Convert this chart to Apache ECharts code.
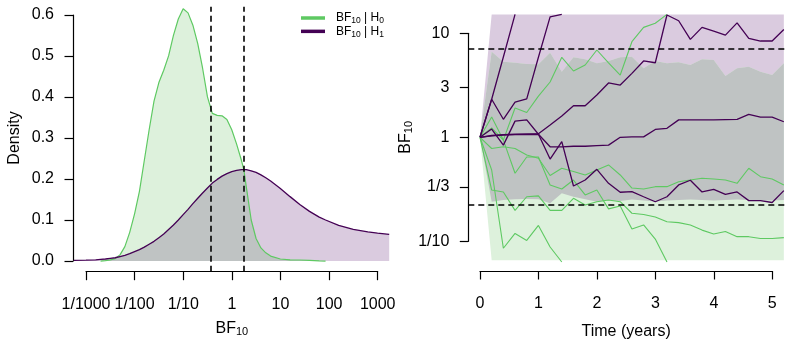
<!DOCTYPE html>
<html>
<head>
<meta charset="utf-8">
<script src="https://cdn.jsdelivr.net/npm/echarts@6/dist/echarts.min.js"></script>
<style>
  html, body { margin: 0; padding: 0; background: #fff; }
  #main { width: 789px; height: 345px; }
</style>
</head>
<body>
<div id="main"></div>
<script>
// ---- left panel: density of BF10 (x in log10 units) ----
const logBF = [-3.25, -3.0, -2.8, -2.7, -2.6, -2.5, -2.4, -2.3, -2.2, -2.1, -2.0, -1.9, -1.8, -1.7, -1.6, -1.5,
  -1.4, -1.3, -1.2, -1.1, -1.0, -0.9, -0.8, -0.7, -0.6, -0.5, -0.4, -0.3, -0.2, -0.1, 0.0, 0.1, 0.2, 0.25,
  0.3, 0.4, 0.5, 0.6, 0.7, 0.8, 1.0, 1.2, 1.4, 1.6, 1.8, 1.93, 2.2, 2.5, 2.8, 3.0, 3.24];
const densH0 = [null, null, null, 0, 0.001, 0.003, 0.006, 0.015, 0.035, 0.07, 0.115, 0.17, 0.245, 0.32, 0.39, 0.435,
  0.465, 0.50, 0.55, 0.59, 0.615, 0.605, 0.575, 0.53, 0.47, 0.40, 0.36, 0.355, 0.354, 0.345, 0.32, 0.285, 0.245, 0.222,
  0.18, 0.10, 0.055, 0.032, 0.02, 0.012, 0.005, 0.003, 0.0025, 0.0015, 0.0005, 0, null, null, null, null, null];
const densH1 = [0.0015, 0.002, 0.003, 0.004, 0.005, 0.0065, 0.008, 0.011, 0.014, 0.018, 0.023, 0.028, 0.034, 0.041, 0.048, 0.057,
  0.066, 0.077, 0.088, 0.100, 0.113, 0.126, 0.14, 0.153, 0.166, 0.178, 0.19, 0.199, 0.207, 0.213, 0.218, 0.221, 0.223, 0.223,
  0.223, 0.22, 0.216, 0.21, 0.203, 0.195, 0.177, 0.157, 0.138, 0.121, 0.107, 0.100, 0.087, 0.077, 0.071, 0.068, 0.065];
const cutsLeft = [0.37, 1.79];
const xTickLabelsLeft = ['1/1000', '1/100', '1/10', '1', '10', '100', '1000'];

// ---- right panel: BF10 over time ----
const years = [0, 0.2, 0.4, 0.6, 0.8, 1, 1.2, 1.4, 1.6, 1.8, 2, 2.2, 2.4, 2.6, 2.8, 3, 3.2, 3.4, 3.6, 3.8, 4, 4.2, 4.4, 4.6, 4.8, 5, 5.2];
const bandH1Low = [1, 0.240, 0.249, 0.253, 0.255, 0.253, 0.232, 0.290, 0.268, 0.253, 0.240, 0.247, 0.244, 0.252, 0.247, 0.241,
  0.247, 0.249, 0.252, 0.249, 0.247, 0.249, 0.252, 0.249, 0.247, 0.247, 0.249];
const bandH1High = [1, 15.2, 15.2, 15.2, 15.2, 15.2, 15.2, 15.2, 15.2, 15.2, 15.2, 15.2, 15.2, 15.2, 15.2, 15.2,
  15.2, 15.2, 15.2, 15.2, 15.2, 15.2, 15.2, 15.2, 15.2, 15.2, 15.2];
const bandH0Low = [1, 0.0658, 0.0658, 0.0658, 0.0658, 0.0658, 0.0658, 0.0658, 0.0658, 0.0658, 0.0658, 0.0658, 0.0658, 0.0658,
  0.0658, 0.0658, 0.0658, 0.0658, 0.0658, 0.0658, 0.0658, 0.0658, 0.0658, 0.0658, 0.0658, 0.0658, 0.0658];
const bandH0High = [1, 6.65, 5.33, 5.21, 5.07, 5.03, 6.51, 4.27, 5.88, 5.62, 5.15, 5.42, 5.88, 5.96, 4.61, 5.42,
  5.15, 5.26, 4.96, 5.62, 5.54, 3.88, 4.61, 4.77, 4.27, 3.97, 5.15];

const h1PathA = [1, 2.32, 1.49, 2.18, 2.34, 5.88, 14.4, 15.2];
const h1PathB = [1, 2.32, 5.92, 15.2];
const h1PathC = [1, 1.2, 0.84, 1.43, 1.47, 1.07, 0.618, 0.91, 0.340, 0.388, 0.492, 0.361, 0.296, 0.300, 0.268, 0.240,
  0.268, 0.348, 0.386, 0.298, 0.316, 0.283, 0.298, 0.246, 0.246, 0.236, 0.307];
const h1PathD = [1, 1.04, 1.06, 1.07, 1.08, 1.08, 1.31, 1.60, 2.01, 2.01, 2.55, 3.33, 3.18, 4.12, 5.42, 5.21,
  15.0, 13.2, 8.75, 11.4, 10.5, 9.6, 12.6, 8.95, 8.43, 8.43, 10.9];
const h1PathE = [1, 1.03, 1.05, 1.06, 1.06, 1.07, 0.81, 0.81, 0.82, 0.82, 0.83, 0.84, 1.0, 1.01, 1.01, 1.19,
  1.22, 1.47, 1.47, 1.47, 1.47, 1.48, 1.49, 1.66, 1.56, 1.56, 1.41];

const h0PathA = [1, 1.57, 0.94, 1.91, 1.73, 2.49, 3.40, 5.88, 4.34, 4.96, 6.91, 5.2, 3.97, 8.30, 11.4, 12.5, 15.2];
const h0PathB = [1, 0.78, 0.81, 0.78, 0.676, 0.628, 0.429, 0.504, 0.469, 0.434, 0.485, 0.542, 0.434, 0.325, 0.318, 0.335,
  0.335, 0.374, 0.388, 0.404, 0.397, 0.388, 0.361, 0.504, 0.418, 0.397, 0.348];
const h0PathC = [1, 1.23, 0.94, 0.451, 0.647, 0.647, 0.348, 0.318, 0.388, 0.279, 0.311, 0.205, 0.218, 0.131, 0.1435, 0.105, 0.0632];
const h0PathD = [1, 0.311, 0.298, 0.198, 0.268, 0.273, 0.198, 0.198, 0.259, 0.223, 0.240, 0.249, 0.240, 0.186, 0.181, 0.171,
  0.154, 0.151, 0.1435, 0.128, 0.1175, 0.124, 0.1107, 0.1107, 0.1064, 0.1064, 0.1083];
const h0PathE = [1, 0.485, 0.0857, 0.119, 0.1018, 0.142, 0.0881, 0.0632];

const cutsRight = [0.225, 7];
const yTicksRight = [1 / 10, 1 / 3, 1, 3, 10];
const yTickLabelsRight = ['1/10', '1/3', '1', '3', '10'];

// ---- styling ----
const FONT = "'Liberation Sans', Arial, sans-serif";
const GREEN = '#5ec962';
const PURPLE = '#440154';
const GREEN_FILL = '#ddf1dc';
const PURPLE_FILL = '#dacbdf';
const GRAY_FILL = '#bfc3c3';

const lg = (v) => Math.log10(v);
const labelStyle = { color: '#000', fontSize: 16, fontFamily: FONT };
const axisLine = { show: true, lineStyle: { color: '#000', width: 1.2 } };
const axisTick = { show: true, length: 8.5, lineStyle: { color: '#000', width: 1.2 } };
const subRich = {
  b: { fontSize: 16, fontFamily: FONT, color: '#000', lineHeight: 18 },
  s: { fontSize: 11, fontFamily: FONT, color: '#000', lineHeight: 10, verticalAlign: 'bottom' }
};
const hidden = (gridIndex, min, max) => ({ gridIndex, type: 'value', min, max, show: false, splitLine: { show: false } });

// left panel points
const h0Pts = logBF.map((x, i) => [x, densH0[i]]).filter((p) => p[1] !== null);
const h1Pts = logBF.map((x, i) => [x, densH1[i]]);
const overlapPts = logBF.map((x, i) => (densH0[i] === null ? null : [x, Math.min(densH0[i], densH1[i])])).filter(Boolean);

// right panel: a band is one polygon, upper edge then lower edge, mapped through the axes
const traj = (vals) => vals.map((v, i) => [years[i], lg(v)]);
function band(name, lo, hi, color, extra) {
  return Object.assign({
    name, type: 'custom', coordinateSystem: 'cartesian2d', xAxisIndex: 3, yAxisIndex: 3, silent: true,
    data: years.map((t, i) => [t, lg(lo[i]), lg(hi[i])]),
    encode: { x: 0, y: [1, 2] },
    renderItem: (params, api) => {
      if (params.dataIndex !== 0) return null;
      const upper = years.map((t, i) => api.coord([t, lg(hi[i])]));
      const lower = years.map((t, i) => api.coord([t, lg(lo[i])])).reverse();
      return { type: 'polygon', shape: { points: upper.concat(lower) }, style: { fill: color } };
    }
  }, extra || {});
}
function path(vals, color, width) {
  return {
    type: 'line', xAxisIndex: 3, yAxisIndex: 3, data: traj(vals), showSymbol: false, silent: true,
    lineStyle: { color, width }, itemStyle: { color }, z: 3
  };
}

const chart = echarts.init(document.getElementById('main'));
chart.setOption({
  animation: false,
  backgroundColor: '#fff',
  grid: [
    { left: 73, top: 6.7, width: 316.2, height: 265 },     // left data
    { left: 73, top: 15, width: 316.2, height: 246 },      // left y axis
    { left: 86, top: 262, width: 291.7, height: 9.7 },     // left x axis
    { left: 468.3, top: 4.4, width: 316.7, height: 266.6 },// right data
    { left: 468.3, top: 33.3, width: 316.7, height: 208 }, // right y axis
    { left: 480, top: 262, width: 292.3, height: 9 }       // right x axis
  ],
  xAxis: [
    hidden(0, -3.267, 3.24),
    hidden(1, 0, 1),
    {
      gridIndex: 2, type: 'value', min: -3, max: 3, interval: 1, axisLine, axisTick, splitLine: { show: false },
      axisLabel: Object.assign({ margin: 25, formatter: (v) => xTickLabelsLeft[Math.round(v) + 3] }, labelStyle),
      name: '{b|BF}{s|10}', nameLocation: 'middle', nameGap: 48, nameTextStyle: { rich: subRich }
    },
    hidden(3, -0.2, 5.22),
    hidden(4, 0, 1),
    {
      gridIndex: 5, type: 'value', min: 0, max: 5, interval: 1, axisLine, axisTick, splitLine: { show: false },
      axisLabel: Object.assign({ margin: 25 }, labelStyle),
      name: 'Time (years)', nameLocation: 'middle', nameGap: 53, nameTextStyle: labelStyle
    }
  ],
  yAxis: [
    hidden(0, -0.026, 0.62),
    {
      gridIndex: 1, type: 'value', min: 0, max: 0.6, interval: 0.1, axisLine, axisTick, splitLine: { show: false },
      axisLabel: Object.assign({ margin: 19, formatter: (v) => v.toFixed(1) }, labelStyle),
      name: 'Density', nameLocation: 'middle', nameGap: 50, nameTextStyle: labelStyle
    },
    hidden(2, 0, 1),
    hidden(3, -1.286, 1.278),
    {
      gridIndex: 4, type: 'value', min: -1, max: 1, axisLine, splitLine: { show: false },
      axisTick: Object.assign({ customValues: yTickVals() }, axisTick),
      axisLabel: Object.assign({
        margin: 19, customValues: yTickVals(),
        formatter: (v) => yTickLabelsRight[yTickVals().findIndex((t) => Math.abs(t - v) < 1e-3)]
      }, labelStyle),
      name: '{b|BF}{s|10}', nameLocation: 'middle', nameGap: 46, nameTextStyle: { rich: subRich }
    },
    hidden(5, 0, 1)
  ],
  legend: {
    data: ['H0', 'H1'], orient: 'vertical', left: 301, top: 12, padding: 0, itemGap: 0,
    icon: 'rect', itemWidth: 24, itemHeight: 3.5,
    formatter: (name) => '{p|BF}{s|10}{b| | H}{s|' + (name === 'H0' ? '0' : '1') + '}',
    textStyle: {
      rich: {
        p: { fontSize: 12, fontFamily: FONT, color: '#000', lineHeight: 14.7, padding: [0, 0, 0, 6] },
        b: { fontSize: 12, fontFamily: FONT, color: '#000', lineHeight: 14.7 },
        s: { fontSize: 8.5, fontFamily: FONT, color: '#000', lineHeight: 8.5, verticalAlign: 'bottom' }
      }
    }
  },
  series: [
    // left panel fills
    { name: 'H0 fill', type: 'line', xAxisIndex: 0, yAxisIndex: 0, data: h0Pts, showSymbol: false, silent: true,
      lineStyle: { width: 0, opacity: 0 }, areaStyle: { color: GREEN_FILL, opacity: 1 } },
    { name: 'H1 fill', type: 'line', xAxisIndex: 0, yAxisIndex: 0, data: h1Pts, showSymbol: false, silent: true,
      lineStyle: { width: 0, opacity: 0 }, areaStyle: { color: PURPLE_FILL, opacity: 1 } },
    { name: 'overlap', type: 'line', xAxisIndex: 0, yAxisIndex: 0, data: overlapPts, showSymbol: false, silent: true,
      lineStyle: { width: 0, opacity: 0 }, areaStyle: { color: GRAY_FILL, opacity: 1 },
      markLine: { silent: true, symbol: 'none', label: { show: false },
        lineStyle: { color: '#000', type: [6, 4], width: 1.6 },
        data: cutsLeft.map((c) => ({ xAxis: lg(c) })) } },
    { name: 'H0', type: 'line', xAxisIndex: 0, yAxisIndex: 0, data: h0Pts, showSymbol: false, silent: true,
      lineStyle: { color: GREEN, width: 1.2 }, itemStyle: { color: GREEN } },
    { name: 'H1', type: 'line', xAxisIndex: 0, yAxisIndex: 0, data: h1Pts, showSymbol: false, silent: true,
      lineStyle: { color: PURPLE, width: 1.3 }, itemStyle: { color: PURPLE } },

    // right panel bands
    band('h1 band', bandH1Low, bandH1High, PURPLE_FILL),
    band('h0 band', bandH0Low, bandH0High, GREEN_FILL),
    band('overlap band', bandH1Low, bandH0High, GRAY_FILL),
    {
      type: 'line', xAxisIndex: 3, yAxisIndex: 3, data: [], silent: true, z: 4,
      markLine: { silent: true, symbol: 'none', label: { show: false },
        lineStyle: { color: '#000', type: [6, 4], width: 1.6 },
        data: cutsRight.map((c) => ({ yAxis: lg(c) })) }
    },

    // right panel trajectories
    path(h0PathA, GREEN, 1.1), path(h0PathB, GREEN, 1.1), path(h0PathC, GREEN, 1.1),
    path(h0PathD, GREEN, 1.1), path(h0PathE, GREEN, 1.1),
    path(h1PathA, PURPLE, 1.3), path(h1PathB, PURPLE, 1.3), path(h1PathC, PURPLE, 1.3),
    path(h1PathD, PURPLE, 1.3), path(h1PathE, PURPLE, 1.3)
  ]
});

function yTickVals() { return yTicksRight.map(lg); }
</script>
</body>
</html>
